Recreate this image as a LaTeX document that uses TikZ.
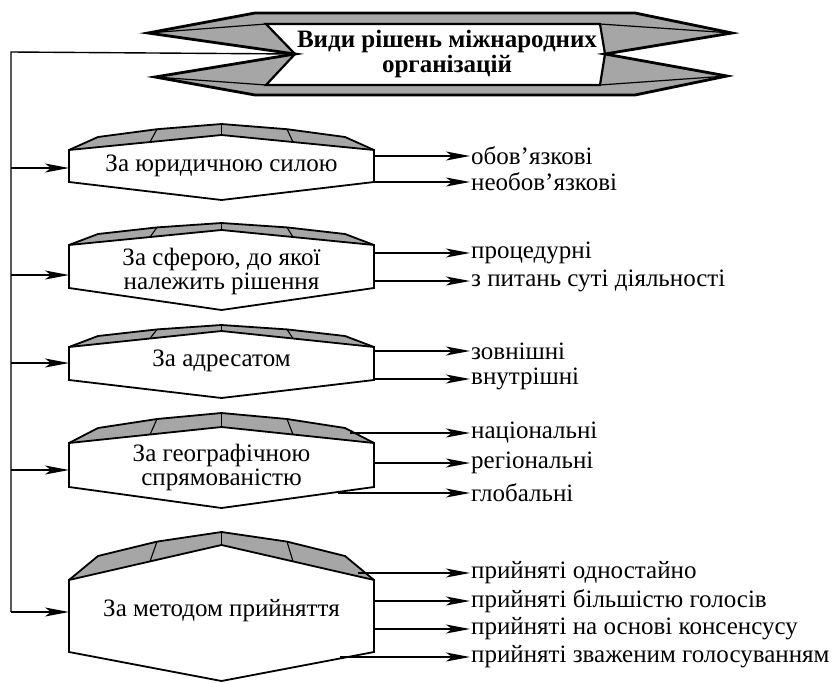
\documentclass[tikz,border=0pt]{standalone}
\usepackage{fontspec}
\setmainfont{Liberation Serif}
\usetikzlibrary{arrows.meta,calc}
\newcommand\prismbox[7]{% #1 name, #2 yt, #3 ya, #4 yi, #5 yb, #6 ybb, #7 text y
  \pgfmathsetmacro\yA{#2-(#2-#3)*0.5}
  \pgfmathsetmacro\yB{#2-(#2-#3)*0.8}
  \pgfmathsetmacro\yIn{#2-(#2-#4)*(150-69)/152.5}
  \fill[black!35] (69,#2) -- (98,\yA) -- (157,\yB) -- (221.5,#3) -- (287,\yB) -- (345,\yA) -- (374,#2) -- (221.5,#4) -- cycle;
  \draw[ridge] (157,\yB) -- (150,\yIn);
  \draw[ridge] (221.5,#3) -- (221.5,#4);
  \draw[ridge] (287,\yB) -- (293,\yIn);
  \draw[roof] (69,#2) -- (98,\yA) -- (157,\yB) -- (221.5,#3) -- (287,\yB) -- (345,\yA) -- (374,#2);
  \draw[face] (69,#2) -- (221.5,#4) -- (374,#2) -- (374,#5) -- (221.5,#6) -- (69,#5) -- cycle;
  \coordinate (#1-c) at (221.5,#7);
}
\begin{document}
\begin{tikzpicture}[x=1pt,y=-1pt,
  roof/.style={draw=black, line width=1.8pt, line join=miter},
  face/.style={fill=white, draw=black, line width=1.8pt, line join=miter},
  ridge/.style={draw=black, line width=1.1pt},
  conn/.style={line width=1.4pt, -{Stealth[length=24pt,width=9pt,inset=6pt]}},
  lbl/.style={anchor=west, inner sep=1pt, font=\fontsize{25}{26}\selectfont},
  boxtxt/.style={align=center, inner sep=0pt, font=\fontsize{25}{24}\selectfont},
  ttl/.style={align=center, inner sep=0pt, font=\bfseries\fontsize{25}{25}\selectfont},
]
\useasboundingbox (0,0) rectangle (839,683);

% ---------- banner ----------
\coordinate (L1) at (148,33);
\coordinate (T1) at (255,13);
\coordinate (T2) at (635,13);
\coordinate (R1) at (732,33);
\coordinate (RN) at (605,54);
\coordinate (R2) at (727,76);
\coordinate (B2) at (635,95);
\coordinate (B1) at (255,95);
\coordinate (L2) at (155,77);
\coordinate (LN) at (295,54);
\coordinate (IL1) at (266,24);
\coordinate (IR1) at (600,24);
\coordinate (IR2) at (600,85);
\coordinate (IL2) at (266,85);
\fill[black!35] (L1) -- (T1) -- (T2) -- (R1) -- (RN) -- (R2) -- (B2) -- (B1) -- (L2) -- (LN) -- cycle;
\draw[black, line width=1.2pt] (L1) -- (IL1) (L2) -- (IL2) (R1) -- (IR1) (R2) -- (IR2);
\draw[fill=white, draw=black, line width=2.2pt, line join=miter] (IL1) -- (IR1) -- (RN) -- (IR2) -- (IL2) -- (LN) -- cycle;
\draw[black, line width=2.8pt, line join=miter] (L1) -- (T1) -- (T2) -- (R1) -- (RN) -- (R2) -- (B2) -- (B1) -- (L2) -- (LN) -- cycle;
\node[ttl] (title) at (447,54) {Види рішень міжнародних\\організацій};

% ---------- boxes ----------
\prismbox{b1}{150}{124}{135}{182}{200}{166}
\node[boxtxt] (n1) at (b1-c) {За юридичною силою};
\prismbox{b2}{245}{223}{230}{288}{310}{271}
\node[boxtxt] (n2) at (b2-c) {За сферою, до якої\\належить рішення};
\prismbox{b3}{347}{325}{331}{380}{398}{361}
\node[boxtxt] (n3) at (b3-c) {За адресатом};
\prismbox{b4}{443}{413}{427}{487}{508}{467}
\node[boxtxt] (n4) at (b4-c) {За географічною\\спрямованістю};
\prismbox{b5}{580}{532}{545}{652}{681}{611}
\node[boxtxt] (n5) at (b5-c) {За методом прийняття};

% ---------- left spine ----------
\coordinate (vtop) at (11,52);
\coordinate (v1) at (11,168);
\coordinate (v2) at (11,275);
\coordinate (v3) at (11,363);
\coordinate (v4) at (11,470);
\coordinate (v5) at (11,612);
\coordinate (e1) at (69,168);
\coordinate (e2) at (69,275);
\coordinate (e3) at (69,363);
\coordinate (e4) at (69,470);
\coordinate (e5) at (69,612);
\draw[line width=1.4pt] (LN) -- (vtop) -- (v5);
\foreach \i in {1,...,5} \draw[conn] (v\i) -- (e\i);

% ---------- right labels ----------
\node[lbl] (r11) at (470,156) {обов’язкові};
\node[lbl] (r12) at (470,182) {необов’язкові};
\node[lbl] (r21) at (470,253) {процедурні};
\node[lbl] (r22) at (470,281) {з питань суті діяльності};
\node[lbl] (r31) at (470,351) {зовнішні};
\node[lbl] (r32) at (470,379) {внутрішні};
\node[lbl] (r41) at (470,433) {національні};
\node[lbl] (r42) at (470,463) {регіональні};
\node[lbl] (r43) at (470,493) {глобальні};
\node[lbl] (r51) at (470,573) {прийняті одностайно};
\node[lbl] (r52) at (470,601) {прийняті більшістю голосів};
\node[lbl] (r53) at (470,629) {прийняті на основі консенсусу};
\node[lbl] (r54) at (470,657) {прийняті зваженим голосуванням};

\coordinate (s11) at (374,156);
\coordinate (s12) at (374,182);
\coordinate (s21) at (374,253);
\coordinate (s22) at (374,281);
\coordinate (s31) at (374,351);
\coordinate (s32) at (374,379);
\coordinate (s41) at (350,433);
\coordinate (s42) at (374,463);
\coordinate (s43) at (338,493);
\coordinate (s51) at (358,573);
\coordinate (s52) at (374,601);
\coordinate (s53) at (374,629);
\coordinate (s54) at (340,657);
\foreach \k in {11,12,21,22,31,32,41,42,43,51,52,53,54}
  \draw[conn] (s\k) -- (r\k.west);
\end{tikzpicture}
\end{document}
